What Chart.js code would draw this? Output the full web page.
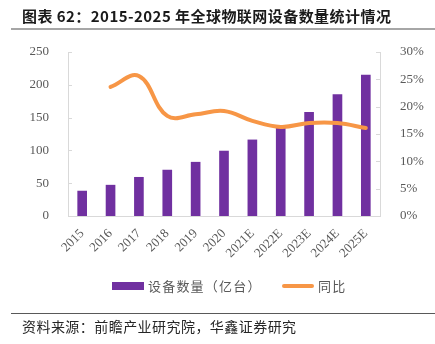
<!DOCTYPE html>
<html>
<head>
<meta charset="utf-8">
<script src="https://cdn.jsdelivr.net/npm/chart.js@4/dist/chart.umd.min.js"></script>
<style>
  html, body { margin: 0; padding: 0; background: #fff; }
  #wrap { position: relative; width: 435px; height: 344px; overflow: hidden; background: #fff; }
  #c { position: absolute; left: 0; top: 0; }
  .title { position: absolute; left: 22px; top: 5px; font: bold 15px "Noto Sans CJK SC", sans-serif; letter-spacing: 0.45px; color: #1a1a1a; white-space: nowrap; }
  .rule1 { position: absolute; left: 11px; right: 0; top: 28px; height: 2px; background: #a6a6a6; }
  .rule2 { position: absolute; left: 11px; right: 0; top: 313px; height: 1px; background: #595959; }
  .src { position: absolute; left: 22px; top: 316px; font: 14px "Noto Sans CJK SC", sans-serif; letter-spacing: 0.45px; color: #262626; white-space: nowrap; }
  .leg { position: absolute; top: 276px; font: 13px "Noto Sans CJK SC", sans-serif; letter-spacing: 1.2px; color: #595959; white-space: nowrap; }
  .sw { position: absolute; }
</style>
</head>
<body>
<div id="wrap">
  <canvas id="c" width="435" height="344"></canvas>
  <div class="title">图表 62：2015-2025 年全球物联网设备数量统计情况</div>
  <div class="rule1"></div>
  <div class="sw" style="left:112px;top:282px;width:32px;height:8px;background:#7030A0"></div>
  <div class="leg" style="left:148px">设备数量（亿台）</div>
  <div class="sw" style="left:282px;top:284px;width:32px;height:4px;border-radius:2px;background:#F79646"></div>
  <div class="leg" style="left:318px">同比</div>
  <div class="rule2"></div>
  <div class="src">资料来源：前瞻产业研究院，华鑫证券研究</div>
</div>
<script>
const categories = ['2015','2016','2017','2018','2019','2020','2021E','2022E','2023E','2024E','2025E'];
const deviceCounts = [38, 47, 59, 70, 82, 99, 116, 135, 158, 185, 215];
const yoyGrowth = [null, 23.6, 25.6, 18.3, 18.6, 19.2, 17.4, 16.3, 17.0, 17.0, 16.1];
const leftTicks = [0, 50, 100, 150, 200, 250];
const rightTicks = [0, 5, 10, 15, 20, 25, 30];

const innerTicks = {
  id: 'innerTicks',
  afterDraw(chart) {
    const ctx = chart.ctx;
    const yl = chart.scales.y, yr = chart.scales.y1;
    ctx.save();
    ctx.strokeStyle = '#d9d9d9';
    ctx.lineWidth = 1;
    leftTicks.forEach(v => {
      const p = Math.round(yl.getPixelForValue(v)) + 0.5;
      ctx.beginPath(); ctx.moveTo(yl.right, p); ctx.lineTo(yl.right + 4, p); ctx.stroke();
    });
    rightTicks.forEach(v => {
      const p = Math.round(yr.getPixelForValue(v)) + 0.5;
      ctx.beginPath(); ctx.moveTo(yr.left - 4, p); ctx.lineTo(yr.left, p); ctx.stroke();
    });
    ctx.restore();
  }
};

const tickFont = { family: '"Liberation Serif", "DejaVu Serif", serif', size: 13 };

new Chart(document.getElementById('c'), {
  data: {
    labels: categories,
    datasets: [
      {
        type: 'line',
        label: '同比',
        data: yoyGrowth,
        yAxisID: 'y1',
        borderColor: '#F79646',
        backgroundColor: '#F79646',
        borderWidth: 4,
        borderCapStyle: 'round',
        pointRadius: 0,
        tension: 0.4,
        order: 0
      },
      {
        type: 'bar',
        label: '设备数量（亿台）',
        data: deviceCounts,
        yAxisID: 'y',
        backgroundColor: '#7030A0',
        barThickness: 9,
        order: 1
      }
    ]
  },
  options: {
    responsive: false,
    animation: false,
    layout: { padding: { top: 52, left: 0, right: 0, bottom: 0 } },
    plugins: { legend: { display: false }, tooltip: { enabled: false } },
    scales: {
      x: {
        offset: true,
        grid: { display: false },
        border: { display: true, color: '#d9d9d9' },
        ticks: { font: tickFont, color: '#595959', minRotation: 45, maxRotation: 45, padding: 2 },
        afterFit(s) { s.height = 128; }
      },
      y: {
        position: 'left',
        min: 0, max: 250,
        afterBuildTicks(s) { s.ticks = leftTicks.map(v => ({ value: v })); },
        grid: { display: false },
        border: { display: true, color: '#d9d9d9' },
        ticks: { font: tickFont, color: '#595959', padding: 11 },
        afterFit(s) { s.width = 68; }
      },
      y1: {
        position: 'right',
        min: 0, max: 30,
        afterBuildTicks(s) { s.ticks = rightTicks.map(v => ({ value: v })); },
        grid: { display: false },
        border: { display: true, color: '#d9d9d9' },
        ticks: { font: tickFont, color: '#595959', padding: 12, callback: v => v + '%' },
        afterFit(s) { s.width = 55; }
      }
    }
  },
  plugins: [innerTicks]
});
</script>
</body>
</html>
